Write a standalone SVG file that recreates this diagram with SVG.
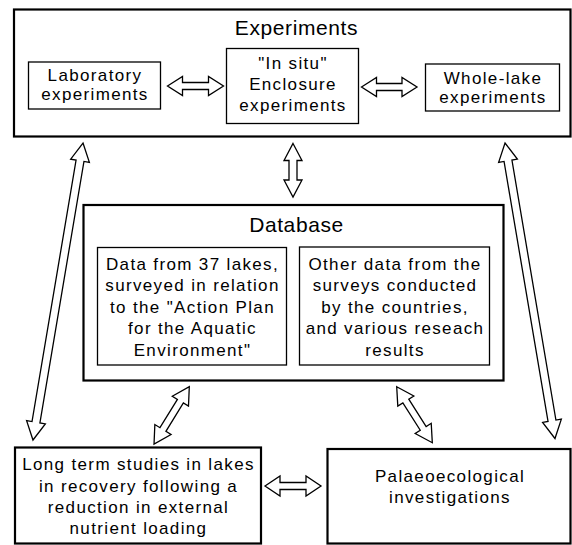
<svg xmlns="http://www.w3.org/2000/svg" width="572" height="545" viewBox="0 0 572 545">
<style>
  .outer { fill: none; stroke: #000; stroke-width: 2.2; }
  .inner { fill: #fff; stroke: #000; stroke-width: 1.3; }
  .arrow { fill: #fff; stroke: #000; stroke-width: 1.3; stroke-linejoin: miter; }
  text { font-family: "Liberation Sans", Arial, sans-serif; fill: #000; text-anchor: middle; }
  .t { font-size: 17px; letter-spacing: 1.35px; }
  .title { font-size: 21px; letter-spacing: 0.6px; }
</style>
<rect width="572" height="545" fill="#fff"/>

<g id="experiments">
  <rect class="outer" x="14" y="9.5" width="556.5" height="127"/>
  <text class="title" x="296.5" y="35">Experiments</text>
</g>
<g id="laboratory">
  <rect class="inner" x="28.5" y="62" width="132" height="47"/>
  <text class="t" x="95" y="81">Laboratory</text>
  <text class="t" x="95" y="100">experiments</text>
</g>
<g id="enclosure">
  <rect class="inner" x="226.5" y="48.5" width="132" height="75"/>
  <text class="t" x="293" y="69">"In situ"</text>
  <text class="t" x="293" y="90">Enclosure</text>
  <text class="t" x="293" y="110.5">experiments</text>
</g>
<g id="wholelake">
  <rect class="inner" x="425.5" y="64" width="134" height="47"/>
  <text class="t" x="493" y="84">Whole-lake</text>
  <text class="t" x="493" y="103">experiments</text>
</g>

<g id="database">
  <rect class="outer" x="83.5" y="205" width="420" height="175.5"/>
  <text class="title" x="296.5" y="231.5">Database</text>
</g>
<g id="data37">
  <rect class="inner" x="97.5" y="247.5" width="189" height="117.5"/>
  <text class="t" x="192.5" y="269.5">Data from 37 lakes,</text>
  <text class="t" x="192.5" y="291">surveyed in relation</text>
  <text class="t" x="192.5" y="312.5">to the "Action Plan</text>
  <text class="t" x="192.5" y="334">for the Aquatic</text>
  <text class="t" x="192.5" y="355.5">Environment"</text>
</g>
<g id="otherdata">
  <rect class="inner" x="299.5" y="247" width="190" height="118"/>
  <text class="t" x="395" y="269.5">Other data from the</text>
  <text class="t" x="395" y="291">surveys conducted</text>
  <text class="t" x="395" y="312.5">by the countries,</text>
  <text class="t" x="395" y="334">and various reseach</text>
  <text class="t" x="395" y="355.5">results</text>
</g>

<g id="longterm">
  <rect class="outer" x="15" y="447.5" width="246" height="96"/>
  <text class="t" x="138.5" y="470">Long term studies in lakes</text>
  <text class="t" x="138.5" y="491.5">in recovery following a</text>
  <text class="t" x="138.5" y="513">reduction in external</text>
  <text class="t" x="138.5" y="534">nutrient loading</text>
</g>
<g id="palaeo">
  <rect class="outer" x="327.5" y="449" width="243" height="94.5"/>
  <text class="t" x="450" y="481.5">Palaeoecological</text>
  <text class="t" x="450" y="503">investigations</text>
</g>

<g id="connectors">
  <polygon class="arrow" transform="translate(167.5,86)" points="0,0 15,-9.5 15,-3.5 41,-3.5 41,-9.5 56,0 41,9.5 41,3.5 15,3.5 15,9.5"/>
  <polygon class="arrow" transform="translate(361.5,87)" points="0,0 15,-9.5 15,-3.5 40.5,-3.5 40.5,-9.5 55.5,0 40.5,9.5 40.5,3.5 15,3.5 15,9.5"/>
  <polygon class="arrow" transform="translate(293,143.5) rotate(90)" points="0,0 17,-9 17,-4 36.5,-4 36.5,-9 53.5,0 36.5,9 36.5,4 17,4 17,9"/>
  <polygon class="arrow" transform="translate(83,143) rotate(99.56)" points="0,0 18,-9.5 18,-4 283.2,-4 283.2,-9.5 301.2,0 283.2,9.5 283.2,4 18,4 18,9.5"/>
  <polygon class="arrow" transform="translate(505,143) rotate(80.4)" points="0,0 18,-9.5 18,-4 281.7,-4 281.7,-9.5 299.7,0 281.7,9.5 281.7,4 18,4 18,9.5"/>
  <polygon class="arrow" transform="translate(189.3,386.7) rotate(121.6)" points="0,0 17,-9.5 17,-3.5 50.3,-3.5 50.3,-9.5 67.3,0 50.3,9.5 50.3,3.5 17,3.5 17,9.5"/>
  <polygon class="arrow" transform="translate(396.7,386.7) rotate(57.56)" points="0,0 17,-9.5 17,-3.5 49.4,-3.5 49.4,-9.5 66.4,0 49.4,9.5 49.4,3.5 17,3.5 17,9.5"/>
  <polygon class="arrow" transform="translate(265,486)" points="0,0 15,-10 15,-3.5 41,-3.5 41,-10 56,0 41,10 41,3.5 15,3.5 15,10"/>
</g>
</svg>
